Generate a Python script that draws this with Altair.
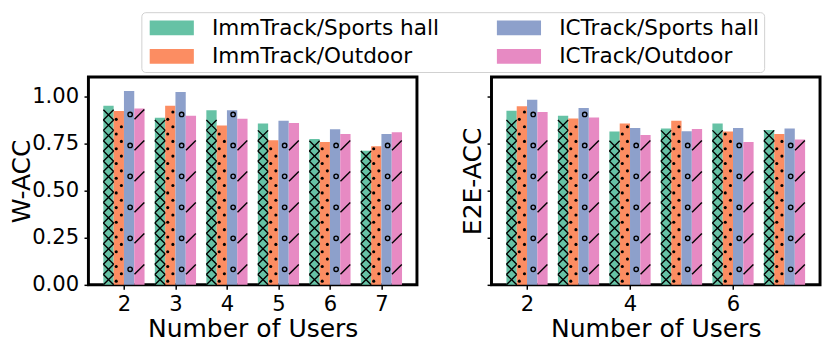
import altair as alt
import pandas as pd

# ---------------- data ----------------
users = [2, 3, 4, 5, 6, 7]
series = ["ImmTrack/Sports hall", "ImmTrack/Outdoor", "ICTrack/Sports hall", "ICTrack/Outdoor"]
colors = ["#66c2a5", "#fc8d62", "#8da0cb", "#e78ac3"]

# W-ACC (left panel)
w_imm_sports = [0.954, 0.889, 0.930, 0.859, 0.777, 0.714]
w_imm_outdoor = [0.925, 0.954, 0.849, 0.770, 0.760, 0.738]
w_ic_sports = [1.032, 1.027, 0.930, 0.874, 0.828, 0.803]
w_ic_outdoor = [0.939, 0.900, 0.884, 0.862, 0.803, 0.813]

# E2E-ACC (right panel)
e_imm_sports = [0.927, 0.900, 0.816, 0.833, 0.859, 0.825]
e_imm_outdoor = [0.951, 0.886, 0.859, 0.874, 0.816, 0.803]
e_ic_sports = [0.985, 0.942, 0.835, 0.818, 0.835, 0.833]
e_ic_outdoor = [0.920, 0.891, 0.798, 0.830, 0.760, 0.774]

y_ticks = [0.0, 0.25, 0.5, 0.75, 1.0]
x_ticks_left = [2, 3, 4, 5, 6, 7]
x_ticks_right = [2, 4, 6]


def long_df(cols):
    rows = []
    for i, (name, vals) in enumerate(zip(series, cols)):
        for u, v in zip(users, vals):
            rows.append({"users": u, "series": name, "idx": i, "value": v})
    return pd.DataFrame(rows)


df_w = long_df([w_imm_sports, w_imm_outdoor, w_ic_sports, w_ic_outdoor])
df_e = long_df([e_imm_sports, e_imm_outdoor, e_ic_sports, e_ic_outdoor])

# ---------------- style ----------------
FONT = "DejaVu Sans"
YMAX = 1.107
PLOT_H = 212
PLOT_W = 335
U = YMAX / PLOT_H  # data units per pixel (y)
BW = 0.2
XTITLE = "Number of Users"

xscale = alt.Scale(domain=[1.31, 7.69], nice=False, zero=False)
yscale = alt.Scale(domain=[0, YMAX], nice=False, zero=True)

legend = alt.Legend(
    title=None, orient="none", legendX=54, legendY=-66, columns=2,
    symbolType="M-1,-1H5V1H-1Z", symbolSize=225, symbolStrokeWidth=0, symbolOpacity=1,
    labelFont=FONT, labelFontSize=22, labelColor="black", labelOffset=45, labelLimit=400,
    columnPadding=55, rowPadding=7, padding=5,
    strokeColor="#d0d0d0", fillColor="white", cornerRadius=4,
)


def hatch(base, ytitle, idx, spacing_px, phase, xoff_expr, half_px, mark):
    sp = spacing_px * U
    return (
        base.transform_filter(f"datum.idx == {idx}")
        .transform_calculate(k="sequence(0, 60)")
        .transform_flatten(["k"])
        .transform_calculate(
            hy=f"(datum.k + {phase}) * {sp}",
            hx=f"datum.xc + ({xoff_expr}) * {BW}",
        )
        .transform_filter(f"datum.hy + {half_px * U} <= datum.value")
        .mark_point(opacity=1, **mark)
        .encode(
            x=alt.X("hx:Q", scale=xscale, title=XTITLE),
            y=alt.Y("hy:Q", scale=yscale, title=ytitle),
        )
    )


def panel(df, ytitle, xticks, ylabels, ytitle_pad):
    base = alt.Chart(df).transform_calculate(
        x0=f"datum.users + (datum.idx - 2) * {BW}",
        x1=f"datum.users + (datum.idx - 1) * {BW}",
        xc=f"datum.users + (datum.idx - 1.5) * {BW}",
        zero="0",
    )
    xaxis = alt.Axis(values=xticks, format="d", labelAngle=0)
    yaxis = alt.Axis(values=y_ticks, format=".2f", labels=ylabels, titlePadding=ytitle_pad)
    bars = base.mark_rect().encode(
        x=alt.X("x0:Q", scale=xscale, axis=xaxis, title=XTITLE),
        x2="x1:Q",
        y=alt.Y("value:Q", scale=yscale, axis=yaxis, title=ytitle),
        y2="zero:Q",
        color=alt.Color("series:N", scale=alt.Scale(domain=series, range=colors),
                        legend=legend),
    )
    h_x = hatch(base, ytitle, 0, 10.5, 0.5, "0", 5.0,
                dict(shape="M-1,-1L1,1M-1,1L1,-1", size=110, filled=False, stroke="black", strokeWidth=1.4))
    h_dot = hatch(base, ytitle, 1, 7.5, 0.5, "datum.k % 2 == 0 ? -0.25 : 0.25", 2.0,
                  dict(shape="circle", size=10, filled=True, fill="black", stroke="black", strokeWidth=0))
    h_o = hatch(base, ytitle, 2, 31.6, 0.5, "0.1", 3.0,
                dict(shape="circle", size=20, filled=False, stroke="black", strokeWidth=1.4))
    h_sl = hatch(base, ytitle, 3, 31.6, 0.5, "0", 5.0,
                 dict(shape="M-1,1L1,-1", size=100, filled=False, stroke="black", strokeWidth=1.4))
    return alt.layer(bars, h_x, h_dot, h_o, h_sl).properties(width=PLOT_W, height=PLOT_H)


left = panel(df_w, "W-ACC", x_ticks_left, True, -3)
right = panel(df_e, "E2E-ACC", x_ticks_right, False, 1)

chart = (
    alt.hconcat(left, right, spacing=41)
    .properties(padding={"left": 0, "top": 0, "right": 0, "bottom": -5})
    .configure_view(stroke="black", strokeWidth=3)
    .configure_axis(
        labelFont=FONT, titleFont=FONT, labelFontSize=21.5, titleFontSize=25.5,
        titleFontWeight="normal", labelColor="black", titleColor="black",
        tickColor="black", tickWidth=1.5, tickSize=4.5, domain=False, grid=False,
    )
    .configure_axisX(labelPadding=5, titlePadding=2)
    .configure_axisY(labelPadding=5.5)
)

chart.save("out.html", embed_options={"renderer": "svg", "actions": False})
